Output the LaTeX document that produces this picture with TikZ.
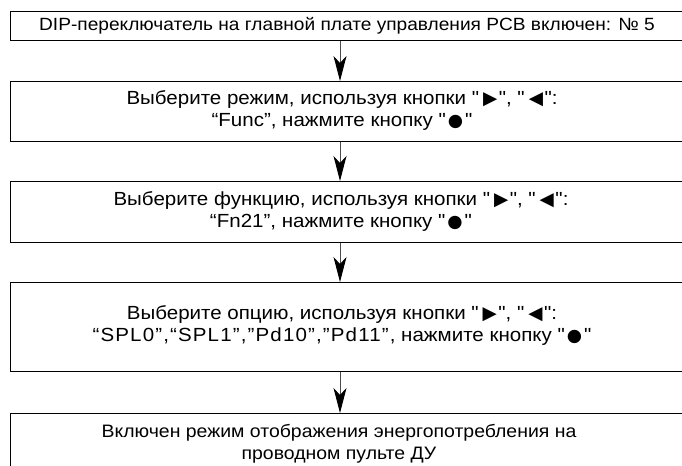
\documentclass[tikz,border=0pt]{standalone}
\usepackage{fontspec}
\setmainfont{Liberation Sans}[Ligatures=TeXOff, FakeStretch=1.08]
\newfontfamily\symfont{DejaVu Sans}
\usetikzlibrary{arrows.meta}
\newcommand\tri[1]{\hspace{4bp}{\symfont\fontsize{18.5bp}{18.5bp}\selectfont #1}\hspace{1.5bp}}
\newcommand\dotsym{\hspace{2bp}{\symfont\fontsize{17.5bp}{17.5bp}\selectfont ●}\hspace{2bp}}
\begin{document}
\begin{tikzpicture}[x=1bp,y=-1bp,
  box/.style={draw=black, line width=0.9bp, anchor=north west, minimum width=700bp, inner sep=0pt},
  txt/.style={align=center, inner sep=0pt, font=\fontsize{19bp}{22bp}\selectfont},
  arr/.style={draw=black!70, line width=0.9bp, -{Stealth[length=25bp, width=13bp, inset=7bp, black]}}]
\useasboundingbox (0,0) rectangle (682,466);
\clip (0,0) rectangle (682,466);
\node[box, minimum height=29bp] (b1) at (10,11) {};
\node[box, minimum height=60bp] (b2) at (10,81) {};
\node[box, minimum height=61bp] (b3) at (10,181) {};
\node[box, minimum height=89bp] (b4) at (10,282) {};
\node[box, minimum height=70bp] (b5) at (10,413) {};
\node[txt, font=\fontsize{17.7bp}{22bp}\selectfont] (t1) at (347,25.5) {DIP-переключатель на главной плате управления PCB включен: № 5};
\node[txt] (t2) at (342,111) {Выберите режим, используя кнопки "\tri{▶}", "\tri{◀}":\\“Func”, нажмите кнопку "\dotsym"};
\node[txt] (t3) at (341,211.5) {Выберите функцию, используя кнопки "\tri{▶}", "\tri{◀}":\\“Fn21”, нажмите кнопку "\dotsym"};
\node[txt] (t4) at (342,326) {Выберите опцию, используя кнопки "\tri{▶}", "\tri{◀}":\\{\addfontfeature{LetterSpace=6}“SPL0”,“SPL1”,”Pd10”,”Pd11”,} нажмите кнопку "\dotsym"};
\node[txt, font=\fontsize{18bp}{22bp}\selectfont] (t5) at (339,444) {Включен режим отображения энергопотребления на\\проводном пульте ДУ};
\coordinate (ax) at (340,0);
\draw[arr] (ax |- b1.south) -- (ax |- b2.north);
\draw[arr] (ax |- b2.south) -- (ax |- b3.north);
\draw[arr] (ax |- b3.south) -- (ax |- b4.north);
\draw[arr] (ax |- b4.south) -- (ax |- b5.north);
\end{tikzpicture}
\end{document}
